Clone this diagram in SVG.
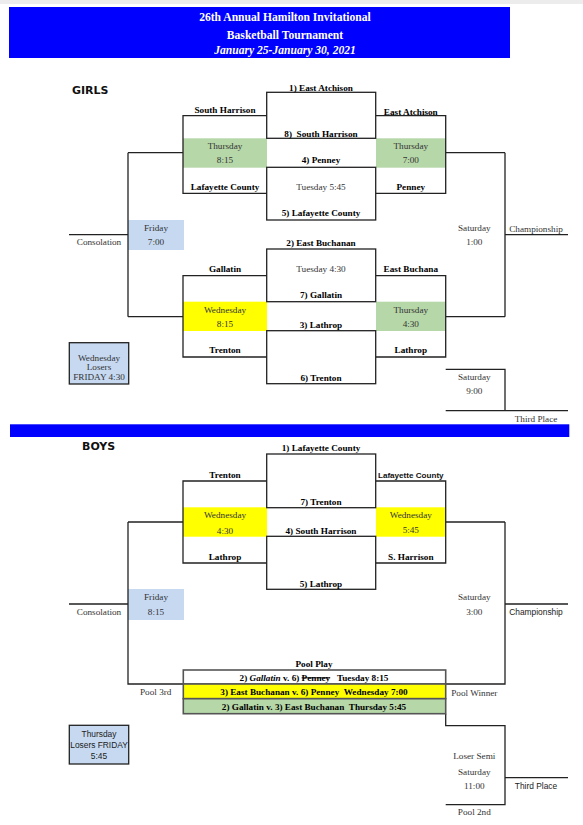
<svg xmlns="http://www.w3.org/2000/svg" width="583" height="825" viewBox="0 0 583 825">
<style>
.b{font-family:"Liberation Serif",serif;font-weight:bold;font-size:9.2px;fill:#000;text-anchor:middle}
.r{font-family:"Liberation Serif",serif;font-size:9.2px;fill:#333;text-anchor:middle}
.s{font-family:"Liberation Sans",sans-serif;font-size:8.4px;fill:#222;text-anchor:middle}
.sb{font-family:"Liberation Sans",sans-serif;font-weight:bold;font-size:8.1px;fill:#111;text-anchor:middle}
.t{font-family:"Liberation Serif",serif;font-weight:bold;font-size:11.6px;fill:#fff;text-anchor:middle}
.h{font-family:"DejaVu Sans",sans-serif;font-weight:bold;font-size:11px;fill:#111}
.ln{stroke:#222;stroke-width:1.3;fill:none}
.box{stroke:#222;stroke-width:1.3}
.green{fill:#b6d7a8}
.yellow{fill:#ffff00}
.blue{fill:#c6d9f1}
.pool{stroke:#555;stroke-width:1.6}
</style>
<rect x="0" y="0" width="583" height="825" fill="#fff"/>
<rect x="0" y="0" width="583" height="4" fill="#ececec"/>

<g id="header">
<rect x="9" y="7" width="501" height="51" fill="#0000ff"/>
<text class="t" x="285" y="20.5">26th Annual Hamilton Invitational</text>
<text class="t" x="285" y="38.8">Basketball Tournament</text>
<text class="t" x="285" y="54" font-style="italic" font-size="10px">January 25-January 30, 2021</text>
</g>

<g id="girls-title"><text class="h" x="72" y="94">GIRLS</text></g>

<!-- fills -->
<g id="fills">
<rect class="green" x="183" y="138.3" width="84" height="29.4"/>
<rect class="green" x="376" y="138.3" width="69.7" height="29.4"/>
<rect class="blue" x="128" y="220" width="56" height="30"/>
<rect class="yellow" x="183" y="301.7" width="84" height="29.3"/>
<rect class="green" x="376" y="301.7" width="69.7" height="29.3"/>
<rect class="yellow" x="183" y="507.3" width="84" height="29.4"/>
<rect class="yellow" x="376" y="507.3" width="69.7" height="29.4"/>
<rect class="blue" x="128" y="589" width="56" height="31"/>
</g>

<g id="connectors">
<!-- girls -->
<path class="ln" d="M267,115.7 H183 V193.3 H267 M128,152.7 H183"/>
<path class="ln" d="M267,275.7 H183 V357 H267 M128,316.7 H183"/>
<path class="ln" d="M128,152.7 V316.7 M69,234.7 H128"/>
<path class="ln" d="M376,115.7 H445.7 V193.3 H376 M445.7,152.7 H505"/>
<path class="ln" d="M376,275.7 H445.7 V357 H376 M445.7,316.7 H505"/>
<path class="ln" d="M505,152.7 V316.7 M505,234.7 H568"/>
<path class="ln" d="M445.7,369.3 H505 V410.7 M445.7,410.7 H568"/>
<!-- boys -->
<path class="ln" d="M267,481 H183 V563 H267 M128,522 H183"/>
<path class="ln" d="M128,522 V684 H183.3 M69,604 H128"/>
<path class="ln" d="M376,481 H445.7 V563 H376 M445.7,522 H505"/>
<path class="ln" d="M505,522 V684 H445.7 M505,604 H568"/>
<path class="ln" d="M445.7,713.7 V725.7 H505 V804.7 H445.7 M505,777.7 H568"/>
</g>

<g id="girls-g1">
<rect class="box" x="266.7" y="92.3" width="109" height="46" fill="none"/>
<text class="b" x="321" y="90.5">1) East Atchison</text>
<text class="b" x="321" y="136.5" xml:space="preserve">8)  South Harrison</text>
</g>
<g id="girls-g2">
<rect class="box" x="266.7" y="167.3" width="109" height="52.7" fill="none"/>
<text class="b" x="321" y="163.2">4) Penney</text>
<text class="r" x="321" y="189.9">Tuesday 5:45</text>
<text class="b" x="321" y="215.9">5) Lafayette County</text>
</g>
<g id="girls-g3">
<rect class="box" x="266.7" y="249" width="109" height="52.7" fill="none"/>
<text class="b" x="321" y="245.5">2) East Buchanan</text>
<text class="r" x="321" y="272.2">Tuesday 4:30</text>
<text class="b" x="321" y="298.2">7) Gallatin</text>
</g>
<g id="girls-g4">
<rect class="box" x="266.7" y="330.7" width="109" height="53" fill="none"/>
<text class="b" x="321" y="327.5">3) Lathrop</text>
<text class="b" x="321" y="380.5">6) Trenton</text>
</g>
<g id="girls-sl1">
<text class="b" x="225" y="112.9">South Harrison</text>
<text class="r" x="225" y="149.2">Thursday</text>
<text class="r" x="225" y="163.2">8:15</text>
<text class="b" x="225" y="190.2">Lafayette County</text>
</g>
<g id="girls-sl2">
<text class="b" x="225" y="272.2">Gallatin</text>
<text class="r" x="225" y="312.5">Wednesday</text>
<text class="r" x="225" y="327.2">8:15</text>
<text class="b" x="225" y="353.2">Trenton</text>
</g>
<g id="girls-sr1">
<text class="b" x="410.8" y="114.9">East Atchison</text>
<text class="r" x="410.8" y="149.2">Thursday</text>
<text class="r" x="410.8" y="163.2">7:00</text>
<text class="b" x="410.8" y="190.2">Penney</text>
</g>
<g id="girls-sr2">
<text class="b" x="410.8" y="272.2">East Buchana</text>
<text class="r" x="410.8" y="312.5">Thursday</text>
<text class="r" x="410.8" y="327.2">4:30</text>
<text class="b" x="410.8" y="353.2">Lathrop</text>
</g>
<g id="girls-consolation">
<text class="r" x="156" y="231.2">Friday</text>
<text class="r" x="156" y="245.2">7:00</text>
<text class="r" x="99" y="245.2">Consolation</text>
</g>
<g id="girls-losers">
<rect class="box blue" x="69.3" y="342.7" width="59.4" height="41.3"/>
<text class="r" x="99" y="360.9" font-size="8.3px">Wednesday</text>
<text class="r" x="99" y="370.2" font-size="8.3px">Losers</text>
<text class="r" x="99" y="379.9" font-size="8.3px">FRIDAY 4:30</text>
</g>
<g id="girls-championship">
<text class="r" x="474.3" y="231.2">Saturday</text>
<text class="r" x="474.3" y="245.2">1:00</text>
<text class="r" x="536" y="231.5">Championship</text>
</g>
<g id="girls-third">
<text class="r" x="474.3" y="380.2">Saturday</text>
<text class="r" x="474.3" y="394.2">9:00</text>
<text class="r" x="536" y="421.5">Third Place</text>
</g>

<g id="boys-bar"><rect x="10" y="424.3" width="559.3" height="12.7" fill="#0000ff"/></g>
<g id="boys-title"><text class="h" x="82" y="450">BOYS</text></g>

<g id="boys-g1">
<rect class="box" x="266.7" y="454" width="109" height="53.7" fill="none"/>
<text class="b" x="321" y="450.5">1) Lafayette County</text>
<text class="b" x="321" y="504.5">7) Trenton</text>
</g>
<g id="boys-g2">
<rect class="box" x="266.7" y="536.3" width="109" height="53" fill="none"/>
<text class="b" x="321" y="533.5">4) South Harrison</text>
<text class="b" x="321" y="586.5">5) Lathrop</text>
</g>
<g id="boys-sl">
<text class="b" x="225" y="477.5">Trenton</text>
<text class="r" x="225" y="518.2">Wednesday</text>
<text class="r" x="225" y="533.5">4:30</text>
<text class="b" x="225" y="559.5">Lathrop</text>
</g>
<g id="boys-sr">
<text class="sb" x="410.8" y="477.6">Lafayette County</text>
<text class="r" x="410.8" y="518.2">Wednesday</text>
<text class="r" x="410.8" y="533.2">5:45</text>
<text class="b" x="410.8" y="559.5">S. Harrison</text>
</g>
<g id="boys-consolation">
<text class="r" x="156" y="600.2">Friday</text>
<text class="r" x="156" y="615.2">8:15</text>
<text class="r" x="99" y="615.2">Consolation</text>
</g>
<g id="boys-championship">
<text class="r" x="474.3" y="600.2">Saturday</text>
<text class="r" x="474.3" y="615.2">3:00</text>
<text class="s" x="536" y="614.6">Championship</text>
</g>
<g id="boys-pool">
<text class="b" x="314" y="666.5">Pool Play</text>
<rect class="pool" x="183.3" y="670" width="262.4" height="14" fill="#fff"/>
<rect class="pool yellow" x="183.3" y="684" width="262.4" height="14.7"/>
<rect class="pool green" x="183.3" y="698.7" width="262.4" height="15"/>
<text class="b" x="314" y="680.5" xml:space="preserve">2) <tspan font-style="italic">Gallatin</tspan> v. 6) <tspan text-decoration="line-through">Penney</tspan>   Tuesday 8:15</text>
<text class="b" x="314" y="695.2" xml:space="preserve">3) East Buchanan v. 6) Penney  Wednesday 7:00</text>
<text class="b" x="314" y="709.9" xml:space="preserve">2) Gallatin v. 3) East Buchanan  Thursday 5:45</text>
<text class="r" x="155.7" y="695.2">Pool 3rd</text>
<text class="r" x="474.3" y="695.5">Pool Winner</text>
</g>
<g id="boys-losers">
<rect class="box blue" x="69.3" y="725.3" width="59.4" height="38.7"/>
<text class="s" x="99" y="736.5" font-size="7.7px">Thursday</text>
<text class="s" x="99" y="747.8" font-size="7.7px">Losers FRIDAY</text>
<text class="s" x="99" y="758.8" font-size="7.7px">5:45</text>
</g>
<g id="boys-third">
<text class="r" x="474.3" y="759.2">Loser Semi</text>
<text class="r" x="474.3" y="774.5">Saturday</text>
<text class="r" x="474.3" y="789.2">11:00</text>
<text class="s" x="536" y="788.6">Third Place</text>
<text class="r" x="474.3" y="815.2">Pool 2nd</text>
</g>
</svg>
